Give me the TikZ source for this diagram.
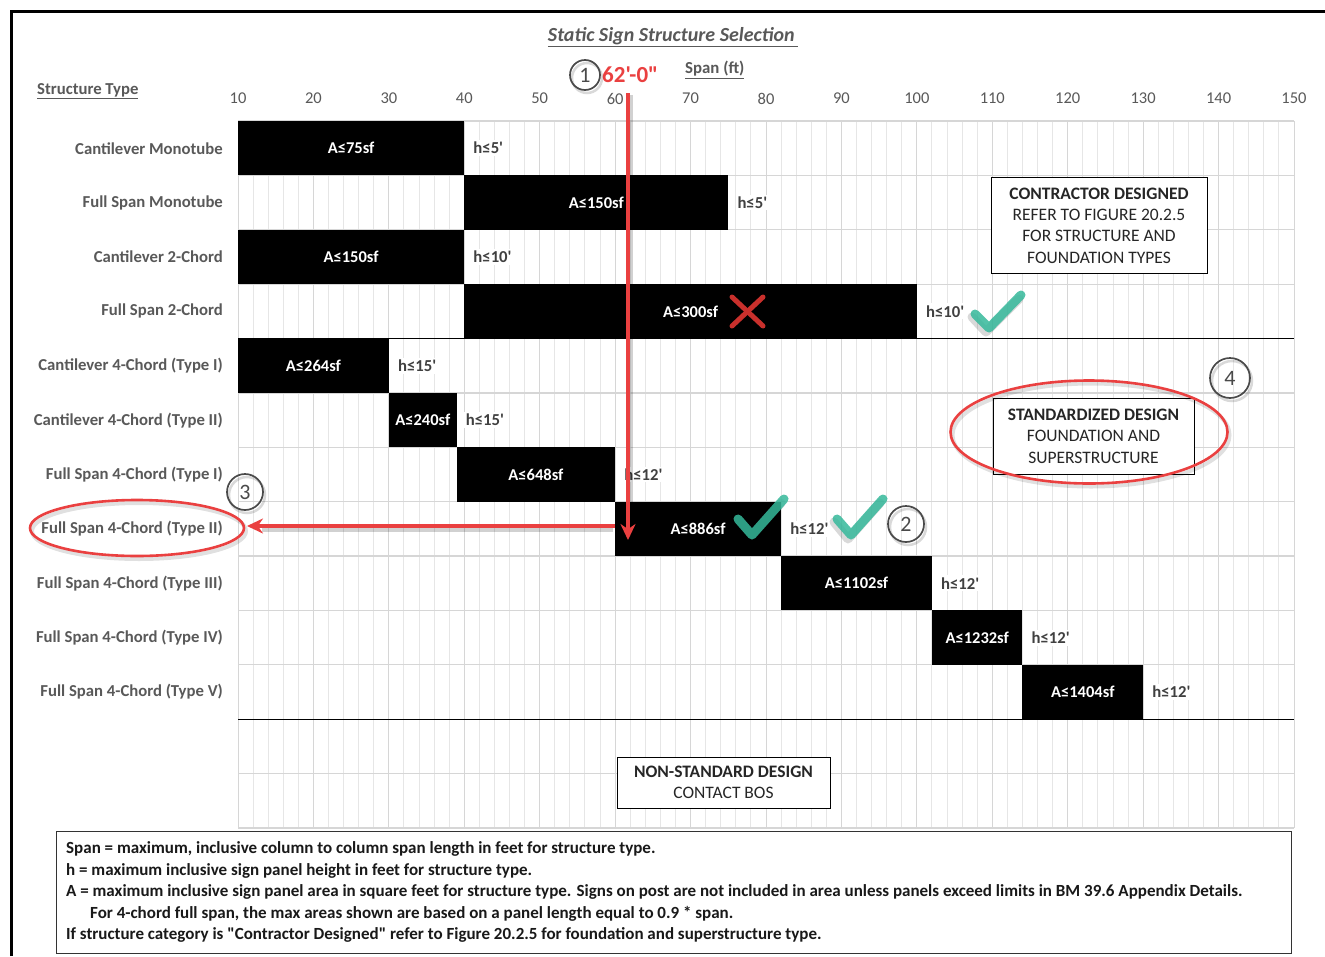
\documentclass[tikz,border=0pt]{standalone}
\usepackage{fontspec}
\setmainfont{Carlito}[Ligatures=TeXOff]
\usetikzlibrary{arrows.meta,shapes.geometric}
\definecolor{gridc}{HTML}{E6E6E6}
\definecolor{gridm}{HTML}{D6D6D6}
\definecolor{lab}{HTML}{595959}
\definecolor{hlab}{HTML}{404040}
\definecolor{redc}{HTML}{EA4040}
\definecolor{xred}{HTML}{C9302C}
\definecolor{tealc}{HTML}{36B99B}
\definecolor{circ}{HTML}{4A4A4A}
\tikzset{
  rowlab/.style={anchor=east,text=lab,font=\fontsize{16.7}{18}\selectfont\bfseries,inner sep=0pt},
  alab/.style={text=white,font=\fontsize{16.5}{18}\selectfont\bfseries,inner sep=0pt},
  hlabel/.style={anchor=west,text=hlab,fill=white,font=\fontsize{16.7}{18}\selectfont\bfseries,inner sep=2pt},
  tick/.style={text=lab,font=\fontsize{16.5}{18}\selectfont,inner sep=0pt},
  infobox/.style={draw=black,line width=1pt,fill=white,align=center,text=black!85,font=\fontsize{17.5}{21.4}\selectfont,inner sep=0pt},
  legline/.style={anchor=west,inner sep=0pt,text=black!90,font=\fontsize{17}{18}\selectfont\bfseries},
  numcirc/.style={circle,draw=circ,line width=1.7pt,inner sep=0pt,text=circ,font=\fontsize{22}{22}\selectfont},
  redarrow/.style={draw=redc,line width=3.5pt,-{Stealth[length=16pt,width=15pt]}},
  shadowline/.style={draw=black,opacity=0.18,line width=5pt},
  checkmark/.style={draw=tealc,line width=9pt,line cap=round,line join=round,opacity=0.85},
  checkshadow/.style={draw=black,line width=9pt,line cap=round,line join=round,opacity=0.15},
}
\begin{document}
\begin{tikzpicture}[x=1pt,y=-1pt]
\useasboundingbox (0,0) rectangle (1325,956);
\fill[white] (0,0) rectangle (1325,956);
% frame
\draw[line width=3pt] (11,956) -- (11,11) -- (1325,11);
% grid
\foreach \f in {10,12,...,150} \draw[gridc,line width=1pt] ({238+(\f-10)*7.543},121) -- ({238+(\f-10)*7.543},828);
\foreach \f in {10,20,...,150} \draw[gridm,line width=1pt] ({238+(\f-10)*7.543},121) -- ({238+(\f-10)*7.543},828);
\foreach \i in {0,...,13} \draw[gridm,line width=1.2pt] (238,{121+\i*54.385}) -- (1294,{121+\i*54.385});
% title and axes
\node[text=lab,font=\fontsize{20}{22}\selectfont\bfseries\itshape] (title) at (673,37) {\underline{Static Sign Structure Selection\,}};
\node[text=lab,font=\fontsize{16.7}{18}\selectfont\bfseries,anchor=west,inner sep=0pt] (stype) at (37,91) {\underline{Structure Type}};
\node[text=lab,font=\fontsize{16.8}{18}\selectfont\bfseries,anchor=west,inner sep=0pt] (span) at (685,70) {\underline{Span (ft)}};
\foreach \f in {10,20,...,150} \node[tick] (t\f) at ({238+(\f-10)*7.543},98.5) {\f};
% bars
\foreach \i/\lab/\a/\b/\A/\h in {
 0/Cantilever Monotube/10/40/A≤75sf/h≤5',
 1/Full Span Monotube/40/75/A≤150sf/h≤5',
 2/Cantilever 2-Chord/10/40/A≤150sf/h≤10',
 3/Full Span 2-Chord/40/100/A≤300sf/h≤10',
 4/Cantilever 4-Chord (Type I)/10/30/A≤264sf/h≤15',
 5/Cantilever 4-Chord (Type II)/30/39/A≤240sf/h≤15',
 6/Full Span 4-Chord (Type I)/39/60/A≤648sf/h≤12',
 7/Full Span 4-Chord (Type II)/60/82/A≤886sf/h≤12',
 8/Full Span 4-Chord (Type III)/82/102/A≤1102sf/h≤12',
 9/Full Span 4-Chord (Type IV)/102/114/A≤1232sf/h≤12',
 10/Full Span 4-Chord (Type V)/114/130/A≤1404sf/h≤12'}{
 \node[rowlab] (r\i) at (223,{121+(\i+0.5)*54.385}) {\lab};
 \fill[black] ({238+(\a-10)*7.543},{121+\i*54.385}) rectangle ({238+(\b-10)*7.543},{121+(\i+1)*54.385});
 \node[alab] (b\i) at ({238+((\a+\b)/2-10)*7.543},{121+(\i+0.5)*54.385}) {\A};
 \node[hlabel] (h\i) at ({238+(\b-10)*7.543+7},{121+(\i+0.5)*54.385}) {\h};
}
% black separator lines
\draw[line width=1.3pt] (238,{121+4*54.385}) -- (1294,{121+4*54.385});
\draw[line width=1.3pt] (238,{121+11*54.385}) -- (1294,{121+11*54.385});
% info boxes
\node[infobox,minimum width=216pt,minimum height=96pt] (contr) at (1099,225.5) {\textbf{CONTRACTOR DESIGNED}\\REFER TO FIGURE 20.2.5\\FOR STRUCTURE AND\\FOUNDATION TYPES};
\node[infobox,minimum width=201pt,minimum height=76pt] (std) at (1093.5,436) {\textbf{STANDARDIZED DESIGN}\\FOUNDATION AND\\SUPERSTRUCTURE};
\node[infobox,minimum width=213pt,minimum height=51pt] (nonstd) at (723.5,782.5) {\textbf{NON-STANDARD DESIGN}\\CONTACT BOS};
% legend
\draw[line width=1pt,draw=black!80] (56,831) rectangle (1291,953);
\node[legline] (l1) at (66,849) {Span = maximum, inclusive column to column span length in feet for structure type.};
\node[legline] (l2) at (66,871) {h = maximum inclusive sign panel height in feet for structure type.};
\node[legline] (l3) at (66,892) {A = maximum inclusive sign panel area in square feet for structure type. Signs on post are not included in area unless panels exceed limits in BM 39.6 Appendix Details.};
\node[legline] (l4) at (90,914) {For 4-chord full span, the max areas shown are based on a panel length equal to 0.9 * span.};
\node[legline] (l5) at (66,935) {If structure category is "Contractor Designed" refer to Figure 20.2.5 for foundation and superstructure type.};
% red X
\draw[xred,line width=5pt,line cap=round] (732,297) -- (763,326);
\draw[xred,line width=5pt,line cap=round] (763,297) -- (732,326);
% check marks
\draw[checkshadow] (972,317) -- (986,332) -- (1019,299);
\draw[checkmark] (975,314) -- (989,328) -- (1021,295);
\draw[checkshadow] (735,522) -- (749,539) -- (781,503);
\draw[checkmark] (738,519) -- (752,535) -- (784,499);
\draw[checkshadow] (834,522) -- (848,539) -- (880,503);
\draw[checkmark] (837,519) -- (851,535) -- (883,499);
% ellipses
\node[ellipse,draw=black,opacity=0.12,line width=4pt,minimum width=214pt,minimum height=56pt,inner sep=0pt] (ell3s) at (139,531) {};
\node[ellipse,draw=redc,line width=2.6pt,minimum width=214pt,minimum height=56pt,inner sep=0pt] (ell3) at (137,528) {};
\node[ellipse,draw=black,opacity=0.12,line width=4pt,minimum width=277pt,minimum height=103pt,inner sep=0pt] (ell4s) at (1091,435) {};
\node[ellipse,draw=redc,line width=2.6pt,minimum width=277pt,minimum height=103pt,inner sep=0pt] (ell4) at (1089,432) {};
% red label and arrows
\node[text=redc,font=\fontsize{23}{24}\selectfont\bfseries,anchor=west,inner sep=0pt] (dim) at (602,75) {62'-0"};
\coordinate (v0) at (628,93);
\coordinate (v1) at (628,540);
\coordinate (h0) at (615,526);
\coordinate (h1) at (247,526);
\draw[shadowline] (630,95) -- (630,525);
\draw[shadowline] (613,529) -- (262,529);
\draw[redarrow] (h0) -- (h1);
\draw[redarrow] (v0) -- (v1);
% numbered circles
\draw[black,opacity=0.15,line width=2.5pt] (587,78) circle (15);
\node[numcirc,minimum size=30pt] (c1) at (585,75) {1};
\draw[black,opacity=0.15,line width=2.5pt] (247,495) circle (18);
\node[numcirc,minimum size=36pt] (c3) at (245,492) {3};
\draw[black,opacity=0.15,line width=2.5pt] (908,527) circle (18);
\node[numcirc,minimum size=36pt] (c2) at (906,524) {2};
\draw[black,opacity=0.15,line width=2.5pt] (1232,381) circle (20);
\node[numcirc,minimum size=40pt] (c4) at (1230,378) {4};
\end{tikzpicture}
\end{document}
